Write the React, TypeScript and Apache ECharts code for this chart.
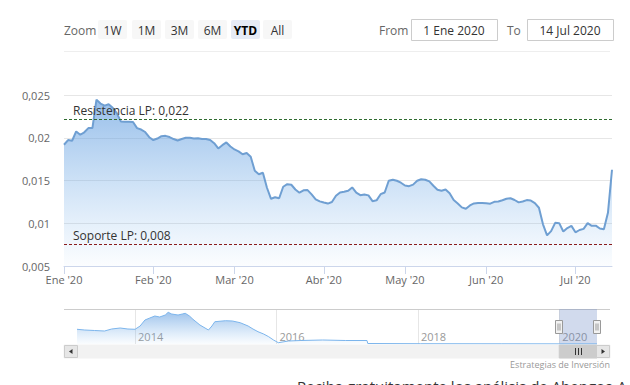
import React, { useEffect, useRef } from 'react';
import * as echarts from 'echarts';

// ---------- data ----------
const monthNames = ['Ene', 'Feb', 'Mar', 'Abr', 'May', 'Jun', 'Jul', 'Ago', 'Sep', 'Oct', 'Nov', 'Dic'];
const firstDay = '2020-01-01';
const lastDay = '2020-07-14';
const marketHolidays = ['2020-01-01', '2020-04-10', '2020-04-13', '2020-05-01'];

// daily close, one per trading day (Jan 2 – Jul 14, 2020)
const prices = [
  0.01918, 0.01973, 0.01965, 0.02074, 0.02035, 0.02064, 0.02113, 0.02113, 0.02445, 0.02400,
  0.02376, 0.02391, 0.02351, 0.02288, 0.02191, 0.02187, 0.02187, 0.02184, 0.02112, 0.02096,
  0.02067, 0.02006, 0.01973, 0.01991, 0.02018, 0.02022, 0.02008, 0.01985, 0.01968, 0.01985,
  0.02000, 0.02000, 0.01992, 0.01994, 0.01985, 0.01985, 0.01974, 0.01936, 0.01875, 0.01913,
  0.01945, 0.01897, 0.01863, 0.01841, 0.01807, 0.01821, 0.01778, 0.01614, 0.01573, 0.01591,
  0.01415, 0.01286, 0.01304, 0.01292, 0.01427, 0.01457, 0.01450, 0.01395, 0.01357, 0.01385,
  0.01388, 0.01337, 0.01280, 0.01256, 0.01242, 0.01230, 0.01248, 0.01321, 0.01360, 0.01368,
  0.01379, 0.01419, 0.01357, 0.01328, 0.01337, 0.01326, 0.01258, 0.01268, 0.01340, 0.01360,
  0.01497, 0.01509, 0.01497, 0.01474, 0.01442, 0.01434, 0.01452, 0.01497, 0.01514, 0.01509,
  0.01489, 0.01438, 0.01392, 0.01380, 0.01394, 0.01350, 0.01271, 0.01232, 0.01186, 0.01169,
  0.01208, 0.01232, 0.01236, 0.01236, 0.01234, 0.01229, 0.01251, 0.01255, 0.01269, 0.01286,
  0.01292, 0.01272, 0.01244, 0.01255, 0.01271, 0.01265, 0.01236, 0.01181, 0.00987, 0.00858,
  0.00908, 0.01005, 0.01001, 0.00904, 0.00944, 0.00969, 0.00894, 0.00921, 0.00934, 0.01001,
  0.00970, 0.00972, 0.00938, 0.00929, 0.01122, 0.01626,
];

const yMin = 0.005;
const yMax = 0.025;
const yStep = 0.005;

const levelNames = ['Resistencia LP: 0,022', 'Soporte LP: 0,008'];
const levelValues = [0.0222, 0.0076];

// navigator (long history)
const navDates = [
  '2013-03-07', '2013-04-16', '2013-06-06', '2013-07-27', '2013-09-02', '2013-10-16', '2013-11-25',
  '2014-01-01', '2014-01-27', '2014-02-21', '2014-03-18', '2014-04-13', '2014-05-08', '2014-06-06',
  '2014-06-21', '2014-07-09', '2014-08-11', '2014-09-02', '2014-09-17', '2014-10-09', '2014-10-27',
  '2014-12-02', '2015-01-15', '2015-02-02', '2015-02-17', '2015-04-13', '2015-05-19', '2015-06-28',
  '2015-08-08', '2015-09-02', '2015-09-28', '2015-10-27', '2015-11-22', '2015-12-17', '2016-01-11',
  '2016-03-03', '2016-05-05', '2016-08-27', '2016-12-24', '2017-04-13', '2017-04-17', '2018-01-15',
  '2019-03-07', '2020-01-02', '2020-07-14',
];
const navValues = [
  2.06, 1.96, 1.89, 1.82, 2.10, 2.24, 2.10,
  2.06, 2.52, 3.36, 3.64, 3.92, 3.78, 4.06,
  4.44, 4.20, 4.06, 4.20, 4.30, 3.92, 3.46,
  2.66, 1.96, 2.52, 3.12, 3.26, 3.22, 2.98,
  2.52, 2.10, 1.72, 1.40, 1.02, 0.56, 0.18,
  0.42, 0.49, 0.56, 0.49, 0.49, 0.07, 0.04,
  0.03, 0.02, 0.016,
];
const navMin = '2013-03-07';
const navMax = '2020-07-14';
const navYearTicks = ['2014-01-01', '2016-01-01', '2018-01-01', '2020-01-01'];
const navSelFrom = '2020-01-01';
const navSelTo = '2020-07-14';

const rangeButtons = ['1W', '1M', '3M', '6M', 'YTD', 'All'];
const selectedButton = 'YTD';
const fromText = '1 Ene 2020';
const toText = '14 Jul 2020';
const creditText = 'Estrategias de Inversión';
const footerText = 'Reciba gratuitamente los análisis de Abengoa A';

// ---------- helpers ----------
const FONT = "'Open Sans', sans-serif";

function toTs(s: string): number {
  const [y, m, d] = s.split('-').map(Number);
  return new Date(y, m - 1, d).getTime();
}

function pad(n: number) {
  return n < 10 ? '0' + n : '' + n;
}

function tradingDays(): string[] {
  const out: string[] = [];
  const [y0, m0, d0] = firstDay.split('-').map(Number);
  const d = new Date(y0, m0 - 1, d0);
  const end = toTs(lastDay);
  while (d.getTime() <= end) {
    const s = `${d.getFullYear()}-${pad(d.getMonth() + 1)}-${pad(d.getDate())}`;
    const dow = d.getDay();
    if (dow !== 0 && dow !== 6 && marketHolidays.indexOf(s) < 0) out.push(s);
    d.setDate(d.getDate() + 1);
  }
  return out;
}

function buildStatic(xL: number, xR: number): any[] {
  const g: any[] = [];
  g.push({
    type: 'text', x: 64, y: 30,
    style: { text: 'Zoom', fill: '#666', fontSize: 12, fontFamily: FONT, verticalAlign: 'middle' },
  });
  const btnX = [98, 132, 165, 198, 231, 263];
  rangeButtons.forEach((b, i) => {
    const sel = b === selectedButton;
    g.push({
      type: 'rect', shape: { x: btnX[i], y: 20, width: 29, height: 19, r: 2 },
      style: { fill: sel ? '#e6ebf5' : '#f7f7f7' },
    });
    g.push({
      type: 'text', x: btnX[i] + 14.5, y: 30,
      style: {
        text: b, fill: sel ? '#000' : '#333', fontSize: 12, fontWeight: sel ? 'bold' : 'normal',
        fontFamily: FONT, align: 'center', verticalAlign: 'middle',
      },
    });
  });
  g.push({
    type: 'text', x: 379, y: 30,
    style: { text: 'From', fill: '#666', fontSize: 12, fontFamily: FONT, verticalAlign: 'middle' },
  });
  g.push({
    type: 'rect', shape: { x: 411.5, y: 19.5, width: 86, height: 21 },
    style: { fill: '#fff', stroke: '#cccccc', lineWidth: 1 },
  });
  g.push({
    type: 'text', x: 454, y: 30,
    style: { text: fromText, fill: '#333', fontSize: 12, fontFamily: FONT, align: 'center', verticalAlign: 'middle' },
  });
  g.push({
    type: 'text', x: 507, y: 30,
    style: { text: 'To', fill: '#666', fontSize: 12, fontFamily: FONT, verticalAlign: 'middle' },
  });
  g.push({
    type: 'rect', shape: { x: 527.5, y: 19.5, width: 86, height: 21 },
    style: { fill: '#fff', stroke: '#cccccc', lineWidth: 1 },
  });
  g.push({
    type: 'text', x: 570, y: 30,
    style: { text: toText, fill: '#333', fontSize: 12, fontFamily: FONT, align: 'center', verticalAlign: 'middle' },
  });
  g.push({
    type: 'line', shape: { x1: 64, y1: 51.5, x2: 610, y2: 51.5 },
    style: { stroke: '#eeeeee', lineWidth: 1 },
  });

  g.push({
    type: 'line', shape: { x1: 64, y1: 309.5, x2: 610, y2: 309.5 },
    style: { stroke: '#cccccc', lineWidth: 1 },
  });

  g.push({
    type: 'rect', shape: { x: 64, y: 345, width: 546, height: 13 },
    style: { fill: '#f2f2f2', stroke: '#f2f2f2' },
  });
  g.push({
    type: 'rect', shape: { x: xL, y: 345, width: xR - xL, height: 13 },
    style: { fill: '#cccccc', stroke: '#cccccc' },
  });
  const cx = Math.round((xL + xR) / 2);
  [-3, 0, 3].forEach((o) => {
    g.push({
      type: 'line', shape: { x1: cx + o + 0.5, y1: 348, x2: cx + o + 0.5, y2: 355 },
      style: { stroke: '#333', lineWidth: 1 },
    });
  });
  g.push({
    type: 'rect', shape: { x: 64.5, y: 345.5, width: 13, height: 12 },
    style: { fill: '#e6e6e6', stroke: '#cccccc', lineWidth: 1 },
  });
  g.push({
    type: 'polygon', shape: { points: [[72.5, 349], [72.5, 354], [69, 351.5]] },
    style: { fill: '#333' },
  });
  g.push({
    type: 'rect', shape: { x: 596.5, y: 345.5, width: 13, height: 12 },
    style: { fill: '#e6e6e6', stroke: '#cccccc', lineWidth: 1 },
  });
  g.push({
    type: 'polygon', shape: { points: [[601.5, 349], [601.5, 354], [605, 351.5]] },
    style: { fill: '#333' },
  });

  [xL, xR].forEach((hx) => {
    const x0 = Math.round(hx) - 3.5;
    g.push({
      type: 'rect', shape: { x: x0, y: 320.5, width: 7, height: 13 },
      style: { fill: '#f2f2f2', stroke: '#999999', lineWidth: 1 },
      z: 10,
    });
    [2, 4].forEach((o) => {
      g.push({
        type: 'line', shape: { x1: x0 + o + 0.5, y1: 323.5, x2: x0 + o + 0.5, y2: 330.5 },
        style: { stroke: '#999999', lineWidth: 1 },
        z: 11,
      });
    });
  });

  g.push({
    type: 'text', x: 610, y: 364,
    style: { text: creditText, fill: '#999', fontSize: 9, fontFamily: FONT, align: 'right', verticalAlign: 'middle' },
  });
  g.push({
    type: 'text', x: 297, y: 378,
    style: { text: footerText, fill: '#333', fontSize: 15, fontFamily: FONT, align: 'left', verticalAlign: 'top' },
  });
  return g;
}

export default function App() {
  const ref = useRef<HTMLDivElement>(null);

  useEffect(() => {
    if (!ref.current) return;
    document.body.style.margin = '0';
    const chart = echarts.init(ref.current, null, { renderer: 'svg' });

    const days = tradingDays();
    const monthStart = new Set<number>();
    days.forEach((d, i) => {
      if (i === 0 || d.slice(0, 7) !== days[i - 1].slice(0, 7)) monthStart.add(i);
    });
    const isMonthStart = (i: number) => monthStart.has(i);
    const fmtMonth = (v: string) => {
      const m = Number(v.slice(5, 7)) - 1;
      return `${monthNames[m]} '${v.slice(2, 4)}`;
    };
    const fmtY = (v: number) => String(+v.toFixed(4)).replace('.', ',');

    const levelColors = ['#2f6b2f', '#8a1c1c'];
    const yearTicks = navYearTicks.map(toTs);

    const option: any = {
      animation: false,
      textStyle: { fontFamily: FONT },
      grid: [
        { left: 64, top: 95, width: 548, height: 171, outerBoundsMode: 'none' },
        { left: 77, top: 309, width: 520, height: 35, outerBoundsMode: 'none' },
      ],
      xAxis: [
        {
          type: 'category',
          gridIndex: 0,
          data: days,
          boundaryGap: false,
          axisLine: { lineStyle: { color: '#ccd6eb', width: 1 } },
          axisTick: { interval: isMonthStart, length: 8, lineStyle: { color: '#ccd6eb' } },
          axisLabel: {
            interval: isMonthStart,
            formatter: fmtMonth,
            color: '#666',
            fontSize: 11,
            margin: 8,
            fontFamily: FONT,
          },
          splitLine: { show: false },
        },
        {
          type: 'value',
          gridIndex: 1,
          min: toTs(navMin),
          max: toTs(navMax),
          axisLine: { show: false },
          axisTick: { show: false, customValues: yearTicks },
          axisLabel: {
            customValues: yearTicks,
            inside: true,
            formatter: (v: number) => String(new Date(v).getFullYear()),
            align: 'left',
            padding: [0, 0, 0, 3],
            color: '#999',
            fontSize: 11,
            margin: 2,
            fontFamily: FONT,
          },
          splitLine: { show: true, lineStyle: { color: '#e6e6e6', width: 1 } },
        },
      ],
      yAxis: [
        {
          type: 'value',
          gridIndex: 0,
          min: yMin,
          max: yMax,
          interval: yStep,
          axisLine: { show: false },
          axisTick: { show: false },
          axisLabel: {
            formatter: fmtY,
            color: '#666',
            fontSize: 11,
            margin: 14,
            padding: [0, 0, 10, 0],
            fontFamily: FONT,
          },
          splitLine: { lineStyle: { color: '#e6e6e6', width: 1 } },
        },
        {
          type: 'value',
          gridIndex: 1,
          min: 0,
          max: 4.9,
          show: false,
          splitLine: { show: false },
        },
      ],
      series: [
        {
          type: 'line',
          xAxisIndex: 0,
          yAxisIndex: 0,
          data: prices,
          symbol: 'none',
          showSymbol: false,
          lineStyle: { color: '#6f9fd2', width: 2 },
          areaStyle: {
            origin: 'start',
            color: new echarts.graphic.LinearGradient(0, 95, 0, 266, [
              { offset: 0, color: 'rgba(95,155,222,0.95)' },
              { offset: 1, color: 'rgba(124,181,236,0.04)' },
            ], true),
          },
          markLine: {
            silent: true,
            symbol: 'none',
            precision: 6,
            data: levelValues.map((v, i) => ({
              yAxis: v,
              lineStyle: { color: levelColors[i], type: [3, 2], width: 1 },
              label: {
                show: true,
                formatter: levelNames[i],
                position: 'insideStartTop',
                distance: [9, 2],
                color: '#333',
                fontSize: 12,
                fontFamily: FONT,
              },
            })),
          },
        },
        {
          type: 'line',
          xAxisIndex: 1,
          yAxisIndex: 1,
          data: navDates.map((d, i) => [toTs(d), navValues[i]]),
          symbol: 'none',
          showSymbol: false,
          lineStyle: { color: '#7cb5ec', width: 1 },
          areaStyle: {
            origin: 'start',
            color: new echarts.graphic.LinearGradient(0, 0, 0, 1, [
              { offset: 0, color: 'rgba(95,155,222,0.85)' },
              { offset: 1, color: 'rgba(124,181,236,0.05)' },
            ]),
          },
          markArea: {
            silent: true,
            itemStyle: { color: 'rgba(102,133,194,0.3)' },
            data: [[{ xAxis: toTs(navSelFrom) }, { xAxis: toTs(navSelTo) }]],
          },
        },
      ],
    };

    chart.setOption(option);
    const xL = chart.convertToPixel({ xAxisIndex: 1 } as any, toTs(navSelFrom)) as unknown as number;
    const xR = chart.convertToPixel({ xAxisIndex: 1 } as any, toTs(navSelTo)) as unknown as number;
    chart.setOption({ graphic: buildStatic(xL, xR) });

    return () => chart.dispose();
  }, []);

  return (
    <div style={{ position: 'absolute', left: 0, top: 0, width: 630, height: 385, overflow: 'hidden', background: '#fff' }}>
      <div ref={ref} style={{ width: 630, height: 385 }} />
    </div>
  );
}
